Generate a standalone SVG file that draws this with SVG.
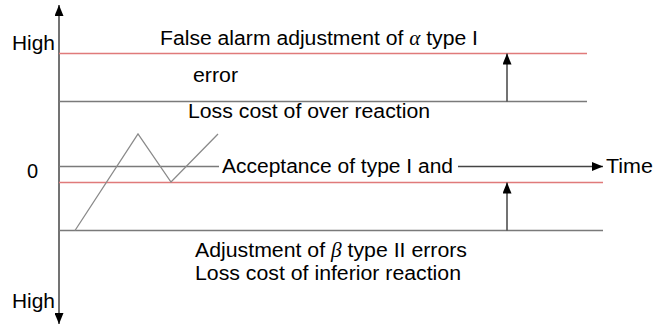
<svg xmlns="http://www.w3.org/2000/svg" width="655" height="326" viewBox="0 0 655 326">
  <style>
    .lbl { font-family: "Liberation Sans", Arial, sans-serif; font-size: 20px; fill: #000; }
    .greek { font-family: "Liberation Serif", "Times New Roman", serif; font-style: italic; }
    .gray { stroke: #7a7a7a; stroke-width: 1.5; fill: none; }
    .red { stroke: #e07a7a; stroke-width: 1.5; fill: none; }
    .axis { stroke: #444; stroke-width: 1.5; fill: none; }
    .trace { stroke: #8a8a8a; stroke-width: 1.3; fill: none; }
  </style>
  <defs>
    <marker id="head" markerWidth="11" markerHeight="9" viewBox="0 0 11 9" refX="11" refY="4.5" orient="auto" markerUnits="userSpaceOnUse">
      <path d="M0,0 L11,4.5 L0,9 Z" fill="#000"/>
    </marker>
  </defs>

  <!-- vertical axis: arrows at both ends -->
  <g id="axes">
    <line class="axis" x1="59" y1="165" x2="59" y2="5" marker-end="url(#head)"/>
    <line class="axis" x1="59" y1="165" x2="59" y2="324" marker-end="url(#head)"/>
  </g>

  <!-- threshold levels -->
  <g id="levels">
    <line class="red" x1="59" y1="53.5" x2="587" y2="53.5"/>
    <line class="gray" x1="59" y1="101.5" x2="587" y2="101.5"/>
    <line class="gray" x1="59" y1="166.5" x2="219" y2="166.5"/>
    <line class="red" x1="59" y1="182.5" x2="603" y2="182.5"/>
    <line class="gray" x1="59" y1="230.5" x2="603" y2="230.5"/>
  </g>

  <g id="connectors">
    <line class="axis" x1="458" y1="166.5" x2="603" y2="166.5" marker-end="url(#head)"/>
    <line class="axis" x1="507" y1="101.5" x2="507" y2="53.5" marker-end="url(#head)"/>
    <line class="axis" x1="507" y1="230.5" x2="507" y2="182.5" marker-end="url(#head)"/>
  </g>

  <g id="trace">
    <polyline class="trace" points="75,230.5 138,134 171,182 218,134"/>
  </g>

  <g id="labels">
    <text class="lbl" x="12" y="50" textLength="43" lengthAdjust="spacingAndGlyphs">High</text>
    <text class="lbl" x="160" y="45" textLength="318" lengthAdjust="spacingAndGlyphs">False alarm adjustment of <tspan class="greek">α</tspan> type I</text>
    <text class="lbl" x="193" y="82" textLength="45" lengthAdjust="spacingAndGlyphs">error</text>
    <text class="lbl" x="188" y="118" textLength="242" lengthAdjust="spacingAndGlyphs">Loss cost of over reaction</text>
    <text class="lbl" x="27" y="178">0</text>
    <text class="lbl" x="222" y="173" textLength="231" lengthAdjust="spacingAndGlyphs">Acceptance of type I and</text>
    <text class="lbl" x="606" y="173" textLength="47" lengthAdjust="spacingAndGlyphs">Time</text>
    <text class="lbl" x="195" y="257" textLength="272" lengthAdjust="spacingAndGlyphs">Adjustment of <tspan class="greek">β</tspan> type II errors</text>
    <text class="lbl" x="195" y="280" textLength="266" lengthAdjust="spacingAndGlyphs">Loss cost of inferior reaction</text>
    <text class="lbl" x="12" y="308" textLength="43" lengthAdjust="spacingAndGlyphs">High</text>
  </g>
</svg>
